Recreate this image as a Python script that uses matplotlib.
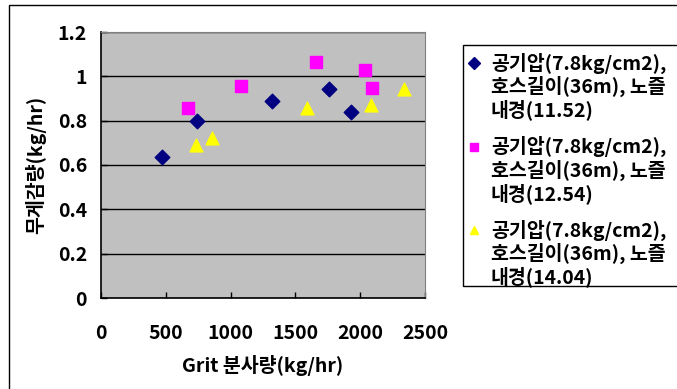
import matplotlib
matplotlib.use("Agg")
import matplotlib.pyplot as plt
from matplotlib.patches import Rectangle
from matplotlib.lines import Line2D

plt.rcParams['font.family'] = ['Noto Sans CJK KR', 'DejaVu Sans']
plt.rcParams['font.weight'] = 'bold'
plt.rcParams['axes.labelweight'] = 'bold'

# series 1 - nozzle 11.52
x1 = [473, 743, 1319, 1762, 1932]
y1 = [0.638, 0.80, 0.887, 0.943, 0.838]
# series 2 - nozzle 12.54
x2 = [674, 1078, 1659, 2034, 2091]
y2 = [0.856, 0.956, 1.066, 1.027, 0.946]
# series 3 - nozzle 14.04
x3 = [730, 856, 1587, 2083, 2335]
y3 = [0.689, 0.72, 0.857, 0.872, 0.943]

labels = [["공기압(7.8kg/cm2),", "호스길이(36m), 노즐", "내경(11.52)"],
          ["공기압(7.8kg/cm2),", "호스길이(36m), 노즐", "내경(12.54)"],
          ["공기압(7.8kg/cm2),", "호스길이(36m), 노즐", "내경(14.04)"]]
markers = ['D', 's', '^']
colors = ['#000080', '#ff00ff', '#ffff00']

xticks = [0, 500, 1000, 1500, 2000, 2500]
yticks = [0, 0.2, 0.4, 0.6, 0.8, 1, 1.2]
yticklabels = ["0", "0.2", "0.4", "0.6", "0.8", "1", "1.2"]

W, H = 677, 389
fig = plt.figure(figsize=(W/100, H/100), dpi=100)
ax = fig.add_axes([101/W, 1-298/H, 324/W, 266/H])
ax.set_facecolor('#c0c0c0')

ax.scatter(x1, y1, marker='D', s=55, color=colors[0], zorder=3)
ax.scatter(x2, y2, marker='s', s=80, color=colors[1], zorder=3)
ax.scatter(x3, y3, marker='^', s=85, color=colors[2], zorder=3)

ax.set_xlim(0, 2500)
ax.set_ylim(0, 1.2)
ax.set_xticks(xticks)
ax.set_yticks(yticks)
ax.set_yticklabels(yticklabels)
ax.yaxis.grid(True, color='black', linewidth=1)
ax.set_axisbelow(True)
ax.tick_params(direction='in', length=4, width=1, labelsize=14)
ax.tick_params(axis='x', pad=19)
ax.tick_params(axis='y', pad=10)
for s in ['top', 'right']:
    ax.spines[s].set_color('#808080')
for s in ['left', 'bottom']:
    ax.spines[s].set_color('black')
    ax.spines[s].set_linewidth(1.2)

ax.set_xlabel("Grit 분사량(kg/hr)", fontsize=14, labelpad=8)
ax.set_ylabel("무게감량(kg/hr)", fontsize=14, labelpad=8)

# legend box, drawn by hand so the marker sits on the first line
fig.patches.append(Rectangle((463/W, 1-286/H), 0.5, (286-45)/H, transform=fig.transFigure,
                             fill=False, edgecolor='black', linewidth=1))
for i in range(3):
    y0 = 63 + 83.5*i
    fig.lines.append(Line2D([474/W], [1-y0/H], marker=markers[i], markersize=6,
                            color=colors[i], linestyle='none', transform=fig.transFigure))
    for j, line in enumerate(labels[i]):
        fig.text(491/W, 1-(y0 + 23.5*j)/H, line, fontsize=14, va='center', ha='left')

fig.patches.append(Rectangle((9/W, -0.1), 1.2, 1.1 - 5/H, transform=fig.transFigure,
                             fill=False, edgecolor='black', linewidth=1))

fig.savefig("out.png", dpi=100)
